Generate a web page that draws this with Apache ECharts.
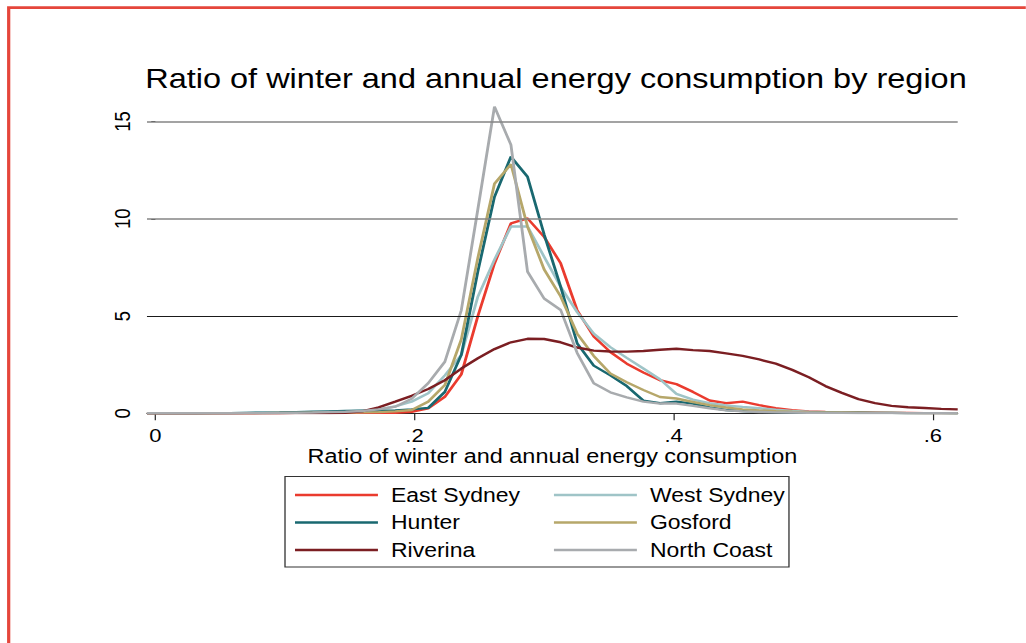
<!DOCTYPE html>
<html>
<head>
<meta charset="utf-8">
<title>Winter/annual energy ratio by region</title>
<script src="https://cdn.jsdelivr.net/npm/echarts@6/dist/echarts.min.js"></script>
<style>
  html, body { margin: 0; padding: 0; background: #fff; overflow: hidden; }
  /* the figure is laid out narrower and stretched horizontally to its final width */
  #chart { width: 862px; height: 643px; transform: scaleX(1.19); transform-origin: 0 0; }
</style>
</head>
<body>
<div id="chart"></div>
<script>
// Kernel density estimates, evaluated on a common grid of ratio values
const ratio = [-0.0065, 0.0063, 0.0190, 0.0318, 0.0446, 0.0574, 0.0701, 0.0829, 0.0957, 0.1084,
  0.1212, 0.1340, 0.1467, 0.1595, 0.1723, 0.1851, 0.1978, 0.2106, 0.2234, 0.2361,
  0.2489, 0.2617, 0.2744, 0.2872, 0.3000, 0.3128, 0.3255, 0.3383, 0.3511, 0.3638,
  0.3766, 0.3894, 0.4021, 0.4149, 0.4277, 0.4405, 0.4532, 0.4660, 0.4788, 0.4915,
  0.5043, 0.5171, 0.5298, 0.5426, 0.5554, 0.5681, 0.5809, 0.5937, 0.6065, 0.6192];

const eastSydney = [0, 0, 0, 0, 0, 0, 0, 0.01, 0.01, 0.02,
  0.02, 0.03, 0.03, 0.04, 0.03, 0.02, 0.08, 0.25, 0.85, 2.0,
  5.0, 7.7, 9.76, 10.02, 9.07, 7.71, 5.3, 3.95, 3.15, 2.55,
  2.1, 1.7, 1.5, 1.1, 0.66, 0.52, 0.6, 0.42, 0.26, 0.16,
  0.1, 0.07, 0.05, 0.04, 0.03, 0.02, 0.02, 0.01, 0.01, 0.01];

const westSydney = [0, 0, 0, 0, 0.01, 0.01, 0.02, 0.02, 0.03, 0.04,
  0.05, 0.07, 0.1, 0.13, 0.2, 0.35, 0.6, 1.03, 1.95, 3.0,
  6.0, 7.9, 9.6, 9.6, 8.05, 6.5, 5.2, 4.1, 3.4, 2.85,
  2.3, 1.75, 1.0, 0.7, 0.52, 0.4, 0.33, 0.26, 0.18, 0.12,
  0.08, 0.06, 0.04, 0.03, 0.02, 0.02, 0.01, 0.01, 0.01, 0];

const hunter = [0, 0, 0, 0, 0.01, 0.01, 0.02, 0.03, 0.04, 0.06,
  0.08, 0.1, 0.12, 0.13, 0.14, 0.15, 0.2, 0.28, 1.1, 3.0,
  7.3, 11.13, 13.19, 12.16, 9.2, 6.5, 3.6, 2.45, 1.95, 1.4,
  0.65, 0.52, 0.6, 0.5, 0.3, 0.17, 0.12, 0.08, 0.06, 0.05,
  0.04, 0.04, 0.03, 0.03, 0.02, 0.02, 0.01, 0.01, 0.01, 0];

const gosford = [0, 0, 0, 0, 0, 0.01, 0.01, 0.01, 0.02, 0.02,
  0.03, 0.03, 0.04, 0.05, 0.06, 0.1, 0.17, 0.6, 1.45, 3.8,
  8.0, 11.8, 12.8, 9.6, 7.4, 6.0, 4.1, 2.95, 2.05, 1.6,
  1.2, 0.84, 0.76, 0.58, 0.42, 0.3, 0.2, 0.15, 0.11, 0.08,
  0.06, 0.05, 0.04, 0.03, 0.02, 0.02, 0.01, 0.01, 0.01, 0];

const riverina = [0, 0, 0, 0, 0, 0, 0, 0, 0, 0.01,
  0.01, 0.01, 0.02, 0.1, 0.3, 0.6, 0.9, 1.25, 1.7, 2.3,
  2.83, 3.3, 3.65, 3.83, 3.82, 3.65, 3.38, 3.22, 3.18, 3.17,
  3.2, 3.27, 3.32, 3.25, 3.2, 3.08, 2.95, 2.77, 2.55, 2.23,
  1.85, 1.4, 1.05, 0.73, 0.52, 0.38, 0.31, 0.27, 0.23, 0.2];

const northCoast = [0, 0, 0, 0, 0, 0, 0.01, 0.01, 0.02, 0.03,
  0.04, 0.06, 0.08, 0.12, 0.2, 0.34, 0.75, 1.55, 2.65, 5.3,
  10.5, 15.76, 13.8, 7.28, 5.9, 5.31, 3.1, 1.55, 1.08, 0.82,
  0.6, 0.5, 0.5, 0.38, 0.26, 0.15, 0.1, 0.07, 0.05, 0.04,
  0.03, 0.02, 0.02, 0.01, 0.01, 0.01, 0, 0, 0, 0];

const xTicks = [0, 0.2, 0.4, 0.6];
const yTicks = [0, 5, 10, 15];

const FONT = "'Liberation Sans', Arial, Helvetica, sans-serif";

const regions = [
  { name: 'East Sydney', values: eastSydney, color: '#ea3b2e' },
  { name: 'West Sydney', values: westSydney, color: '#9fc4c7' },
  { name: 'Hunter',      values: hunter,     color: '#196870' },
  { name: 'Gosford',     values: gosford,    color: '#b6a76a' },
  { name: 'Riverina',    values: riverina,   color: '#7b1e22' },
  { name: 'North Coast', values: northCoast, color: '#a8abae' }
];

const chart = echarts.init(document.getElementById('chart'), null, { renderer: 'svg' });

const densitySeries = regions.map(r => ({
  type: 'line',
  name: r.name,
  data: ratio.map((x, i) => [x, r.values[i]]),
  symbol: 'none',
  showSymbol: false,
  smooth: false,
  z: 3,
  lineStyle: { width: 2.4, color: r.color },
  itemStyle: { color: r.color },
  emphasis: { disabled: true }
}));

// horizontal reference lines at the labelled y ticks
const gridLines = {
  type: 'line',
  name: 'grid',
  data: [],
  z: 1,
  silent: true,
  markLine: {
    silent: true,
    symbol: 'none',
    label: { show: false },
    animation: false,
    data: [
      { yAxis: yTicks[1], lineStyle: { color: '#1a1a1a', width: 1, type: 'solid' } },
      { yAxis: yTicks[2], lineStyle: { color: '#858585', width: 1.5, type: 'solid' } },
      { yAxis: yTicks[3], lineStyle: { color: '#858585', width: 1.5, type: 'solid' } }
    ]
  }
};

const legendText = { fontSize: 19.3, lineHeight: 19, color: '#000', fontFamily: FONT, padding: [0, 0, 0, 6] };

chart.setOption({
  animation: false,
  backgroundColor: '#fff',
  title: {
    text: 'Ratio of winter and annual energy consumption by region',
    left: 122,
    top: 65,
    padding: 0,
    textStyle: { fontSize: 27.3, fontWeight: 'normal', color: '#000', fontFamily: FONT }
  },
  grid: { left: 123.5, right: 57.2, top: 106.7, bottom: 229.7 },
  xAxis: {
    type: 'value',
    min: -0.0065,
    max: 0.6192,
    name: 'Ratio of winter and annual energy consumption',
    nameLocation: 'middle',
    nameGap: 32,
    nameTextStyle: { fontSize: 19.7, color: '#000', fontFamily: FONT },
    axisLine: { show: true, onZero: false, lineStyle: { color: '#222', width: 1 } },
    axisTick: { show: true, length: 7, customValues: xTicks, lineStyle: { color: '#222', width: 1 } },
    axisLabel: {
      customValues: xTicks,
      margin: 13,
      fontSize: 18.5,
      color: '#000',
      fontFamily: FONT,
      formatter: v => (v === 0 ? '0' : String(v).replace(/^0\./, '.'))
    },
    splitLine: { show: false }
  },
  yAxis: {
    type: 'value',
    min: 0,
    max: 15.76,
    axisLine: { show: false },
    axisTick: { show: true, length: 3.5, customValues: yTicks, lineStyle: { color: '#222', width: 1 } },
    axisLabel: {
      customValues: yTicks,
      rotate: 90,
      margin: 11.5,
      fontSize: 18.5,
      color: '#000',
      fontFamily: FONT
    },
    splitLine: { show: false }
  },
  legend: [
    {
      orient: 'vertical', left: 247.9, top: 485.5, padding: 0,
      itemWidth: 69.7, itemHeight: 2.6, itemGap: 8.5, icon: 'rect',
      selectedMode: false,
      data: ['East Sydney', 'Hunter', 'Riverina'],
      textStyle: legendText
    },
    {
      orient: 'vertical', left: 465.5, top: 485.5, padding: 0,
      itemWidth: 69.7, itemHeight: 2.6, itemGap: 8.5, icon: 'rect',
      selectedMode: false,
      data: ['West Sydney', 'Gosford', 'North Coast'],
      textStyle: legendText
    }
  ],
  graphic: [
    {
      // outer frame
      type: 'rect',
      silent: true,
      shape: { x: 7.3, y: 7.7, width: 1200, height: 1200 },
      style: { fill: 'none', stroke: '#e5463b', lineWidth: 2.7 }
    },
    {
      // legend box
      type: 'rect',
      silent: true,
      shape: { x: 239.5, y: 476.5, width: 423.5, height: 90.5 },
      style: { fill: 'none', stroke: '#333', lineWidth: 1.1 }
    }
  ],
  series: [gridLines].concat(densitySeries)
});
</script>
</body>
</html>
